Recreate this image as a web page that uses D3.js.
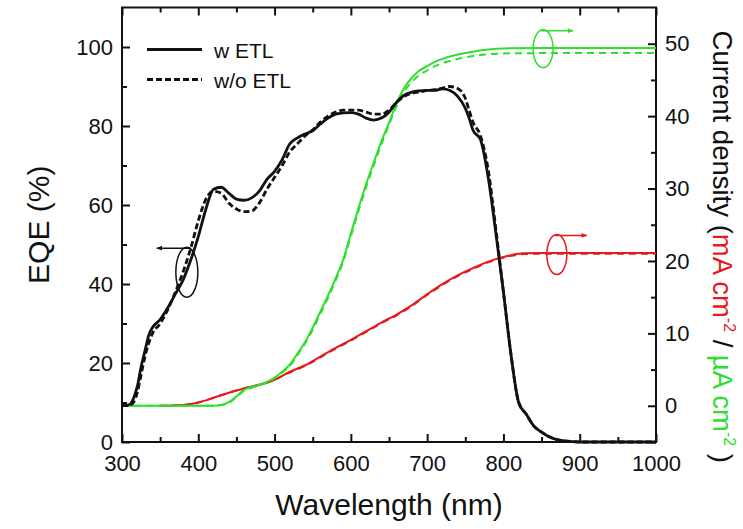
<html>
<head>
  <title>EQE and current density</title>
  <script src="https://d3js.org/d3.v7.min.js"></script>
  <style>
    body { margin: 0; background: #fff; }
    text { font-family: "Liberation Sans", Arial, sans-serif; fill: #111; }
    .axis .domain { display: none; }
    .axis line { stroke: #111; stroke-width: 2px; }
  </style>
</head>
<body>
  <svg id="chart" width="743" height="529"></svg>
  <script>
    // EQE (%) vs wavelength, left axis
    const eqeWl = [300, 305, 310, 315, 320, 325, 330, 335, 340, 350, 360, 370, 380, 390, 400, 410, 420, 430, 440, 450,
      460, 470, 480, 490, 500, 510, 520, 530, 540, 550, 560, 570, 580, 590, 600, 610, 620, 630, 640, 650,
      660, 670, 680, 690, 700, 710, 720, 730, 740, 750, 755, 760, 770, 780, 790, 800, 810, 820, 830, 840,
      850, 860, 870, 880, 890, 900, 950, 1000];
    const eqeWithEtl = [9.4, 9.3, 9.5, 11, 14, 19, 23, 27, 29, 31, 34, 37.5, 41, 46, 52, 59, 64, 64.5, 63, 61.5,
      61.2, 61.8, 63.5, 66.5, 68.5, 71.5, 75.5, 77, 78, 78.8, 80.5, 82, 83, 83.3, 83.4, 83, 82, 81.5, 82, 83.5,
      86, 87.8, 88.6, 88.9, 89, 89, 89.4, 89, 87.5, 84.5, 82, 79, 76.5, 67, 53, 38, 22, 10, 7, 4,
      2.5, 1.3, 0.6, 0.3, 0.1, 0, 0, 0];
    const eqeWithoutEtl = [9.2, 9.2, 9.3, 10, 12.5, 17, 21.5, 25, 27.5, 30, 33.5, 38, 43, 49, 56, 61.5, 63.5, 63, 60.5, 59,
      58.3, 58.5, 60.5, 64, 67, 70, 73.5, 75.5, 77.5, 79, 81, 82.5, 83.5, 84, 84, 84, 83.5, 83, 83, 84,
      86, 87.5, 88.3, 88.6, 89, 89.2, 89.6, 90, 89.5, 87, 84, 81, 77.5, 69, 54, 38, 22, 10, 7, 4,
      2.5, 1.3, 0.6, 0.3, 0.1, 0, 0, 0];

    // integrated current, right axis (green in uA cm-2)
    const greenWl = [300, 420, 430, 440, 450, 460, 470, 480, 490, 500, 510, 520, 530, 540, 550, 560, 570, 580, 590, 600,
      610, 620, 630, 640, 650, 660, 670, 680, 690, 700, 710, 720, 740, 760, 780, 800, 850, 1000];
    const greenWithEtl = [0, 0, 0.1, 0.5, 1.3, 2.2, 2.6, 2.9, 3.3, 3.9, 4.7, 5.7, 7.2, 8.8, 10.8, 13, 15.2, 17.6, 20.2, 23.8,
      27.3, 30.6, 33.6, 36.5, 39.1, 41.8, 43.9, 45.3, 46.3, 46.9, 47.5, 47.9, 48.5, 48.9, 49.2, 49.35, 49.4, 49.4];
    const greenWithoutEtl = [0, 0, 0.1, 0.4, 1.2, 2.1, 2.5, 2.8, 3.2, 3.8, 4.6, 5.5, 7, 8.6, 10.5, 12.7, 14.9, 17.3, 19.9, 23.4,
      26.9, 30.2, 33.2, 36.1, 38.8, 41.4, 43.4, 44.7, 45.7, 46.3, 46.9, 47.3, 47.9, 48.3, 48.55, 48.65, 48.7, 48.7];

    // integrated current, right axis (red in mA cm-2)
    const redWl = [350, 380, 400, 420, 440, 460, 480, 500, 520, 540, 560, 580, 600, 620, 640, 660, 680, 700, 720, 740,
      760, 780, 795, 810, 826, 850, 1000];
    const redWithEtl = [0, 0.1, 0.45, 1.1, 1.8, 2.4, 2.9, 3.6, 4.7, 5.6, 6.8, 8, 9.1, 10.3, 11.5, 12.6, 13.9, 15.4, 16.8, 18,
      19, 19.9, 20.4, 20.8, 21.05, 21.1, 21.1];
    const redWithoutEtl = [0, 0.1, 0.45, 1.1, 1.8, 2.4, 2.9, 3.6, 4.6, 5.5, 6.7, 7.9, 9, 10.2, 11.4, 12.5, 13.8, 15.3, 16.7, 17.9,
      18.9, 19.8, 20.3, 20.7, 20.95, 21, 21];

    const xTicks = [300, 400, 500, 600, 700, 800, 900, 1000];
    const xMinor = [350, 450, 550, 650, 750, 850, 950];
    const eqeTicks = [0, 20, 40, 60, 80, 100];
    const eqeMinor = [10, 30, 50, 70, 90];
    const jTicks = [0, 10, 20, 30, 40, 50];
    const jMinor = [-5, 5, 15, 25, 35, 45];
    const legendLabels = ["w ETL", "w/o ETL"];

    const red = "#e41a1c";
    const green = "#2ee02e";

    const svg = d3.select("svg#chart");
    const width = +svg.attr("width");
    const height = +svg.attr("height");
    const margin = { top: 7.5, right: 87, bottom: 87, left: 122 };
    const chartWidth = width - margin.left - margin.right;
    const chartHeight = height - margin.top - margin.bottom;

    const x = d3.scaleLinear().domain([300, 1000]).range([0, chartWidth]);
    const yEqe = d3.scaleLinear().domain([0, 110]).range([chartHeight, 0]);
    const yJ = d3.scaleLinear().domain([-5, 55]).range([chartHeight, 0]);

    const chart = svg.append("g")
      .attr("transform", `translate(${margin.left},${margin.top})`);

    // axes, ticks pointing inward
    const addAxis = (axis, transform, cls) => chart.append("g")
      .attr("class", "axis " + cls)
      .attr("transform", transform)
      .call(axis)
      .selectAll("text").style("font-size", "22px");

    addAxis(d3.axisBottom(x).tickValues(xTicks).tickSize(-8).tickPadding(13).tickFormat(d3.format("d")),
      `translate(0,${chartHeight})`, "x");
    addAxis(d3.axisBottom(x).tickValues(xMinor).tickSize(-5).tickFormat(""), `translate(0,${chartHeight})`, "x minor");
    addAxis(d3.axisTop(x).tickValues(xTicks).tickSize(-8).tickFormat(""), "translate(0,0)", "x top");
    addAxis(d3.axisTop(x).tickValues(xMinor).tickSize(-5).tickFormat(""), "translate(0,0)", "x top minor");
    addAxis(d3.axisLeft(yEqe).tickValues(eqeTicks).tickSize(-8).tickPadding(9).tickFormat(d3.format("d")),
      "translate(0,0)", "y");
    addAxis(d3.axisLeft(yEqe).tickValues(eqeMinor).tickSize(-5).tickFormat(""), "translate(0,0)", "y minor");
    addAxis(d3.axisRight(yJ).tickValues(jTicks).tickSize(-8).tickPadding(9).tickFormat(d3.format("d")),
      `translate(${chartWidth},0)`, "y2");
    addAxis(d3.axisRight(yJ).tickValues(jMinor).tickSize(-5).tickFormat(""), `translate(${chartWidth},0)`, "y2 minor");

    // frame
    chart.append("rect")
      .attr("width", chartWidth).attr("height", chartHeight)
      .attr("fill", "none").attr("stroke", "#111").attr("stroke-width", 2);

    const curve = d3.curveMonotoneX;
    const drawLine = (wl, vals, yScale, color, w, dash) => chart.append("path")
      .datum(wl.map((d, i) => [d, vals[i]]))
      .attr("fill", "none")
      .attr("stroke", color)
      .attr("stroke-width", w)
      .attr("stroke-dasharray", dash)
      .attr("stroke-linejoin", "round")
      .attr("d", d3.line().x(d => x(d[0])).y(d => yScale(d[1])).curve(curve));

    drawLine(redWl, redWithoutEtl, yJ, red, 2, "7,5");
    drawLine(redWl, redWithEtl, yJ, red, 2, null);
    drawLine(greenWl, greenWithoutEtl, yJ, green, 2, "7,5");
    drawLine(greenWl, greenWithEtl, yJ, green, 2, null);
    drawLine(eqeWl, eqeWithoutEtl, yEqe, "#111", 2.8, "6,3");
    drawLine(eqeWl, eqeWithEtl, yEqe, "#111", 2.8, null);

    // arrow markers
    const defs = svg.append("defs");
    [["arrBlack", "#111"], ["arrGreen", green], ["arrRed", red]].forEach(([id, c]) => {
      defs.append("marker").attr("id", id)
        .attr("viewBox", "0 0 10 10").attr("refX", 9).attr("refY", 5)
        .attr("markerWidth", 4).attr("markerHeight", 4).attr("orient", "auto")
        .append("path").attr("d", "M0,1L10,5L0,9z").attr("fill", c);
    });

    // curve-to-axis markers: ellipse plus arrow
    const marker = (wl, val, yScale, rx, ry, dir, color, mid) => {
      const cx = x(wl), cy = yScale(val);
      chart.append("ellipse").attr("cx", cx).attr("cy", cy).attr("rx", rx).attr("ry", ry)
        .attr("fill", "none").attr("stroke", color).attr("stroke-width", 1.5);
      const top = cy - ry + 1;
      chart.append("path")
        .attr("d", `M${cx + (dir < 0 ? 4 : -2)},${top}L${cx + dir * 30},${top}`)
        .attr("fill", "none").attr("stroke", color).attr("stroke-width", 1.5)
        .attr("marker-end", `url(#${mid})`);
    };
    marker(385, 43, yEqe, 11, 25, -1, "#111", "arrBlack");
    marker(852, 49.3, yJ, 10, 19, 1, green, "arrGreen");
    marker(870, 20.9, yJ, 10, 20, 1, red, "arrRed");

    // legend
    const legend = chart.append("g").attr("transform", "translate(25,42)");
    legendLabels.forEach((label, i) => {
      const row = legend.append("g").attr("transform", `translate(0,${i * 30})`);
      row.append("line").attr("x1", 0).attr("x2", 55)
        .attr("stroke", "#111").attr("stroke-width", 2.8)
        .attr("stroke-dasharray", i ? "6,3" : null);
      row.append("text").attr("x", 67).attr("y", 8).style("font-size", "21px").text(label);
    });

    // axis titles
    svg.append("text")
      .attr("x", margin.left + chartWidth / 2).attr("y", 515)
      .attr("text-anchor", "middle").style("font-size", "30px")
      .text("Wavelength (nm)");

    svg.append("text")
      .attr("transform", `translate(49,${margin.top + chartHeight / 2}) rotate(-90)`)
      .attr("text-anchor", "middle").style("font-size", "30px")
      .text("EQE (%)");

    const rt = svg.append("text")
      .attr("transform", `translate(713,${margin.top + chartHeight / 2 + 22}) rotate(90)`)
      .attr("text-anchor", "middle").style("font-size", "27.5px");
    rt.append("tspan").text("Current density (");
    rt.append("tspan").style("fill", red).text("mA cm");
    rt.append("tspan").style("fill", red).style("font-size", "16px").attr("dy", "-11").text("-2");
    rt.append("tspan").attr("dy", "11").text(" / ");
    rt.append("tspan").style("fill", green).text("\u00b5A cm");
    rt.append("tspan").style("fill", green).style("font-size", "16px").attr("dy", "-11").text("-2");
    rt.append("tspan").attr("dy", "11").text(" )");
  </script>
</body>
</html>
